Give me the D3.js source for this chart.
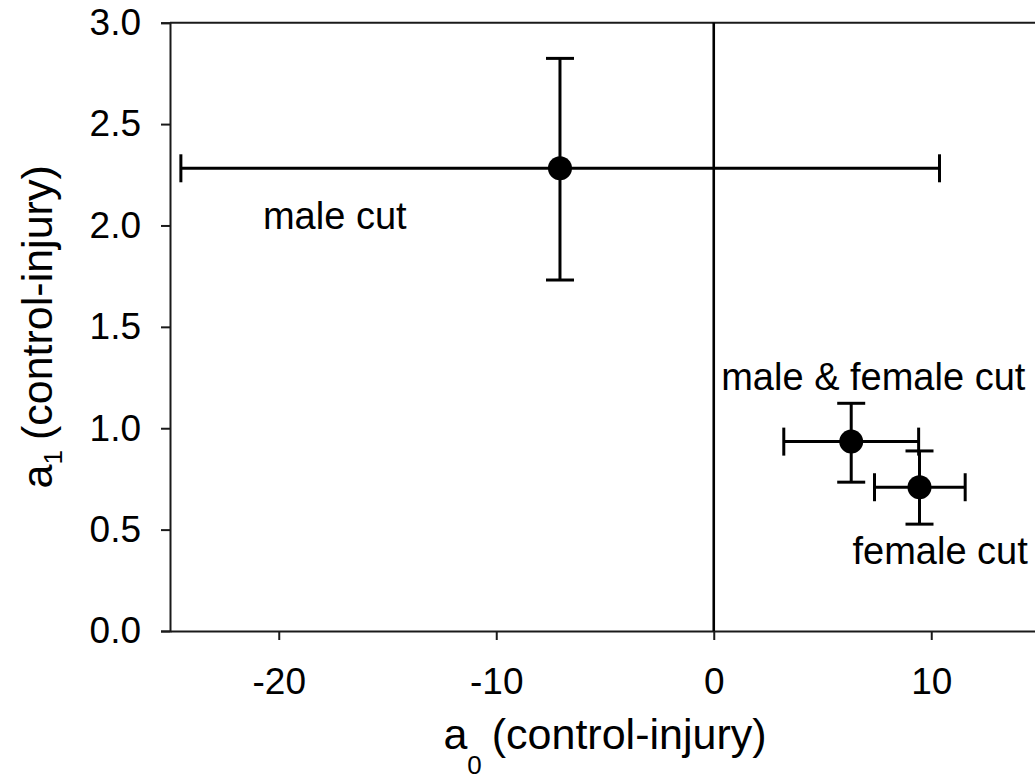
<!DOCTYPE html>
<html>
<head>
<meta charset="utf-8">
<script src="https://cdn.jsdelivr.net/npm/d3@7"></script>
<style>
  html, body { margin: 0; padding: 0; background: #fff; }
  svg { display: block; }
  text { font-family: "Liberation Sans", Arial, Helvetica, sans-serif; fill: #000; }
</style>
</head>
<body>
<svg id="chart" width="1035" height="780"></svg>
<script>
// ---- data ----
const groups = ["male cut", "male & female cut", "female cut"];
const a0 = [-7.07, 6.32, 9.46];
const a1 = [2.282, 0.934, 0.709];
const a0Low = [-24.5, 3.22, 7.39];
const a0High = [10.38, 9.42, 11.56];
const a1Low = [1.731, 0.734, 0.527];
const a1High = [2.824, 1.123, 0.888];
const xTicks = [-20, -10, 0, 10];
const yTicks = [0, 0.5, 1.0, 1.5, 2.0, 2.5, 3.0];

// ---- layout ----
const svg = d3.select("#chart");
const pL = 170, pR = 1040, pT = 22.7, pB = 631;
const x = d3.scaleLinear().domain([-25, 15]).range([pL, pR]);
const y = d3.scaleLinear().domain([0, 3]).range([pB, pT]);
const axisColor = "#1a1a1a";

// label offsets (pixels, relative to point)
const labelOffsets = [[-297, 61], [-130, -52], [-67, 77]];

// frame top & right lines
svg.append("line")
  .attr("x1", pL).attr("x2", pR)
  .attr("y1", y(3)).attr("y2", y(3))
  .attr("stroke", axisColor).attr("stroke-width", 2);
svg.append("line")
  .attr("x1", pR).attr("x2", pR)
  .attr("y1", y(3)).attr("y2", y(0))
  .attr("stroke", axisColor).attr("stroke-width", 2);

// axes
const gx = svg.append("g").attr("transform", `translate(0,${pB})`)
  .call(d3.axisBottom(x).tickValues(xTicks).tickFormat(d => String(d))
    .tickSize(9).tickSizeOuter(0).tickPadding(28));
const gy = svg.append("g").attr("transform", `translate(${pL},0)`)
  .call(d3.axisLeft(y).tickValues(yTicks).tickFormat(d => d.toFixed(1))
    .tickSize(9).tickSizeOuter(9).tickPadding(20));
[gx, gy].forEach(g => {
  g.select(".domain").attr("stroke", axisColor).attr("stroke-width", 2);
  g.selectAll(".tick line").attr("stroke", axisColor).attr("stroke-width", 2);
  g.selectAll(".tick text").attr("font-size", 37)
    .attr("font-family", "'Liberation Sans', Arial, sans-serif").attr("fill", "#000");
});

// zero line
svg.append("line")
  .attr("x1", x(0)).attr("x2", x(0))
  .attr("y1", y(3)).attr("y2", y(0))
  .attr("stroke", "#000").attr("stroke-width", 2.6);

// error bars
const data = groups.map((g, i) => ({
  g, x: a0[i], y: a1[i], xl: a0Low[i], xh: a0High[i], yl: a1Low[i], yh: a1High[i], off: labelOffsets[i]
}));
const cap = 14, lw = 3;
const eb = svg.append("g").attr("stroke", "#000").attr("stroke-width", lw);
data.forEach(d => {
  eb.append("line").attr("x1", x(d.xl)).attr("x2", x(d.xh)).attr("y1", y(d.y)).attr("y2", y(d.y));
  eb.append("line").attr("x1", x(d.xl)).attr("x2", x(d.xl)).attr("y1", y(d.y) - cap).attr("y2", y(d.y) + cap);
  eb.append("line").attr("x1", x(d.xh)).attr("x2", x(d.xh)).attr("y1", y(d.y) - cap).attr("y2", y(d.y) + cap);
  eb.append("line").attr("x1", x(d.x)).attr("x2", x(d.x)).attr("y1", y(d.yl)).attr("y2", y(d.yh));
  eb.append("line").attr("x1", x(d.x) - cap).attr("x2", x(d.x) + cap).attr("y1", y(d.yl)).attr("y2", y(d.yl));
  eb.append("line").attr("x1", x(d.x) - cap).attr("x2", x(d.x) + cap).attr("y1", y(d.yh)).attr("y2", y(d.yh));
});

// points
svg.selectAll("circle.pt").data(data).join("circle")
  .attr("class", "pt")
  .attr("cx", d => x(d.x)).attr("cy", d => y(d.y)).attr("r", 12)
  .attr("fill", "#000");

// labels
svg.selectAll("text.lbl").data(data).join("text")
  .attr("class", "lbl")
  .attr("x", d => x(d.x) + d.off[0]).attr("y", d => y(d.y) + d.off[1])
  .attr("font-size", 38)
  .text(d => d.g);

// axis titles
const xt = svg.append("text")
  .attr("x", (pL + pR) / 2).attr("y", 749)
  .attr("text-anchor", "middle").attr("font-size", 43);
xt.append("tspan").text("a");
xt.append("tspan").attr("font-size", 26).attr("dy", 25).text("0");
xt.append("tspan").attr("dy", -25).attr("dx", -2).text(" (control-injury)");

const yt = svg.append("text")
  .attr("transform", `translate(52,${(pT + pB) / 2}) rotate(-90)`)
  .attr("text-anchor", "middle").attr("font-size", 43);
yt.append("tspan").text("a");
yt.append("tspan").attr("font-size", 26).attr("dy", 10).text("1");
yt.append("tspan").attr("dy", -10).attr("dx", -2).text(" (control-injury)");
</script>
</body>
</html>
